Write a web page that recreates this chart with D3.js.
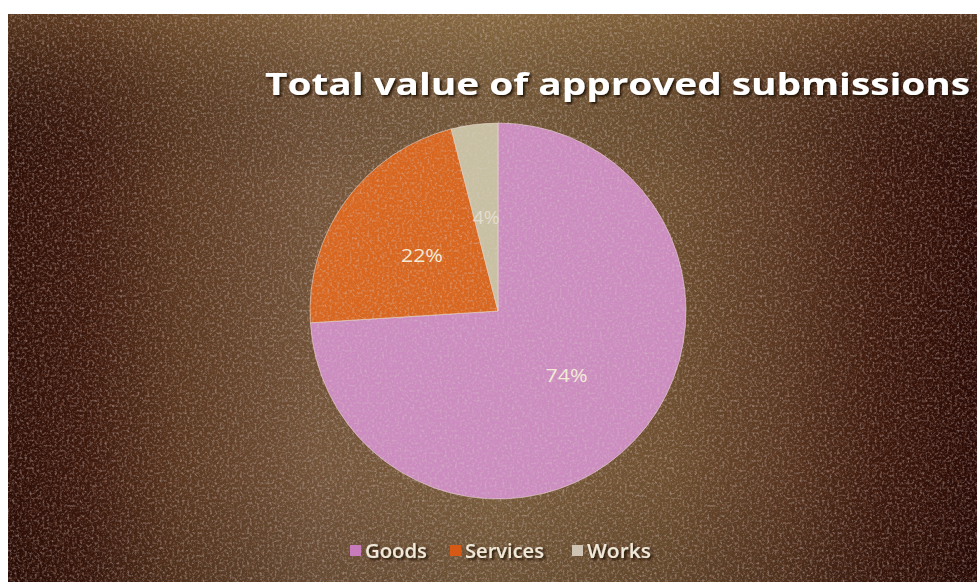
<!DOCTYPE html>
<html><head><meta charset="utf-8">
<script src="https://cdn.jsdelivr.net/npm/d3@7"></script>
<style>html,body{margin:0;padding:0;background:#fff;overflow:hidden}</style>
</head><body>
<svg id="c" width="977" height="582"></svg>
<script>
const categories = ["Goods", "Services", "Works"];
const values = [74, 22, 4];
const labels = ["74%", "22%", "4%"];
const colors = ["#cc8cc0", "#d8661e", "#c8c0a2"];
const legendColors = ["#c77bbb", "#d65a16", "#cfc4b4"];
const title = "Total value of approved submissions";

const W = 977, H = 582;
const svg = d3.select("#c");
const defs = svg.append("defs");

const g1 = defs.append("linearGradient").attr("id","bgH").attr("x1","0").attr("x2","1").attr("y1","0").attr("y2","0");
[[0,"#2e0e06"],[0.08,"#3c180c"],[0.18,"#5a3820"],[0.32,"#73553a"],[0.5,"#7c603e"],[0.68,"#6e5030"],[0.8,"#583620"],[0.9,"#3c180c"],[1,"#2a0a05"]]
  .forEach(([o,c])=>g1.append("stop").attr("offset",o).attr("stop-color",c));
const g2 = defs.append("linearGradient").attr("id","bgV").attr("x1","0").attr("x2","0").attr("y1","0").attr("y2","1");
[[0,"#a08048",0.35],[0.3,"#000",0],[0.8,"#000",0.0],[1,"#000",0.12]]
  .forEach(([o,c,a])=>g2.append("stop").attr("offset",o).attr("stop-color",c).attr("stop-opacity",a));

const f = defs.append("filter").attr("id","noiseL").attr("x",0).attr("y",0).attr("width","100%").attr("height","100%");
f.append("feTurbulence").attr("type","fractalNoise").attr("baseFrequency","0.4").attr("numOctaves",4).attr("seed",4);
f.append("feColorMatrix").attr("type","matrix")
  .attr("values","0 0 0 0 0.72  0 0 0 0 0.6  0 0 0 0 0.6  2.4 0 0 0 -1.1");
const f2 = defs.append("filter").attr("id","noiseD").attr("x",0).attr("y",0).attr("width","100%").attr("height","100%");
f2.append("feTurbulence").attr("type","fractalNoise").attr("baseFrequency","0.3").attr("numOctaves",4).attr("seed",11);
f2.append("feColorMatrix").attr("type","matrix")
  .attr("values","0 0 0 0 0.18  0 0 0 0 0.06  0 0 0 0 0.03  0 -2.4 0 0 1.15");

const ts = defs.append("filter").attr("id","tshadow").attr("x","-5%").attr("y","-20%").attr("width","110%").attr("height","150%");
ts.append("feDropShadow").attr("dx",2).attr("dy",2).attr("stdDeviation",1).attr("flood-color","#1a0a05").attr("flood-opacity",0.9);

const bx = 8, by = 14;
svg.append("rect").attr("x",bx).attr("y",by).attr("width",W-bx).attr("height",H-by).attr("fill","url(#bgH)");
svg.append("rect").attr("x",bx).attr("y",by).attr("width",W-bx).attr("height",H-by).attr("fill","url(#bgV)");
svg.append("rect").attr("x",bx).attr("y",by).attr("width",W-bx).attr("height",H-by)
  .attr("filter","url(#noiseD)").attr("opacity",0.55);

const cx = 498, cy = 311, R = 188;
const pie = d3.pie().sort(null).value(d=>d)(values);
const arc = d3.arc().innerRadius(0).outerRadius(R);
const pg = svg.append("g").attr("transform",`translate(${cx},${cy})`);
pg.selectAll("path").data(pie).join("path")
  .attr("d",arc).attr("fill",(d,i)=>colors[i])
  .attr("stroke","#e9d8d0").attr("stroke-width",1).attr("stroke-opacity",0.6);

svg.append("rect").attr("x",bx).attr("y",by).attr("width",W-bx).attr("height",H-by)
  .attr("filter","url(#noiseL)").attr("opacity",0.45);

const labW = [42, 42, 27];
pg.selectAll("text").data(pie).join("text")
  .attr("transform",d=>{const c=arc.centroid(d); return `translate(${c[0]-labW[d.index]/2},${c[1]})`;})
  .attr("dy","0.35em")
  .attr("font-family","'Open Sans', sans-serif").attr("font-size",18)
  .attr("fill",(d,i)=>i===2?"#e4ddd0":"#f4ecd8")
  .attr("textLength",(d,i)=>labW[i]).attr("lengthAdjust","spacingAndGlyphs")
  .text((d,i)=>labels[i]);

svg.append("text").attr("x",265).attr("y",95)
  .attr("font-family","'Open Sans', sans-serif").attr("font-weight","bold").attr("font-size",30)
  .attr("fill","#ffffff").attr("filter","url(#tshadow)")
  .attr("textLength",705).attr("lengthAdjust","spacingAndGlyphs")
  .text(title);

const leg = svg.append("g");
const lx = [350, 450, 572];
const lw = [62, 79, 64];
categories.forEach((c,i)=>{
  leg.append("rect").attr("x",lx[i]).attr("y",545).attr("width",11).attr("height",11).attr("fill",legendColors[i]);
  leg.append("text").attr("x",lx[i]+15).attr("y",558)
    .attr("font-family","'Open Sans', sans-serif").attr("font-weight",600).attr("font-size",19).attr("fill","#f0e8d8")
    .attr("filter","url(#tshadow)")
    .attr("textLength",lw[i]).attr("lengthAdjust","spacingAndGlyphs")
    .text(c);
});
</script>
</body></html>
